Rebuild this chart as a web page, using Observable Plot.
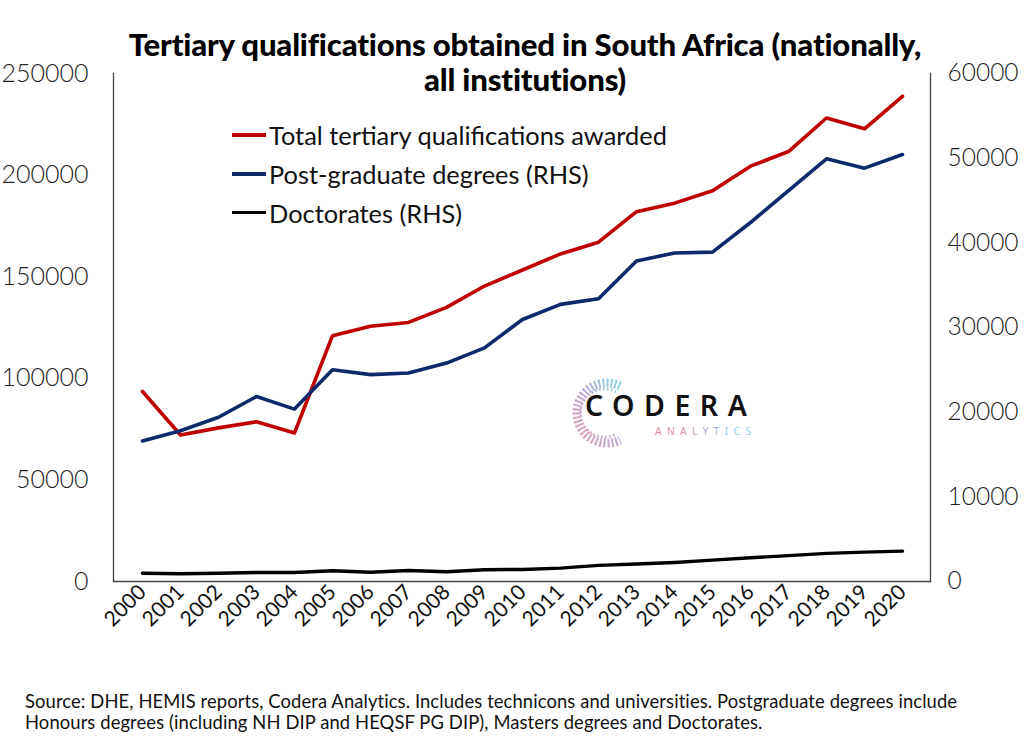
<!DOCTYPE html>
<html><head><meta charset="utf-8">
<script src="https://cdn.jsdelivr.net/npm/d3@7"></script>
<script src="https://cdn.jsdelivr.net/npm/@observablehq/plot@0.6"></script>
<style>
body{margin:0;background:#fff;}
#wrap{position:relative;width:1024px;height:754px;overflow:hidden;font-family:Lato,sans-serif;background:#fff;}
#chart{position:absolute;left:0;top:0;}
#title{position:absolute;left:75px;width:900px;top:27px;text-align:center;font-family:Lato,sans-serif;font-weight:900;font-size:31.2px;line-height:35px;color:#000;letter-spacing:-0.2px;}
#legend{position:absolute;left:232px;top:115px;font-family:Lato,sans-serif;font-size:25.4px;color:#111;}
#legend .row{display:flex;align-items:center;height:39px;}
#legend .sw{width:34px;height:4px;margin-right:3px;}
#logo{position:absolute;left:568px;top:378px;width:200px;height:70px;}
#logo .main{position:absolute;left:17px;top:12px;font-family:"Noto Sans",sans-serif;font-weight:600;font-size:28.5px;letter-spacing:9.5px;color:#111;line-height:30px;}
#logo .sub{position:absolute;left:87px;top:47px;font-family:"Noto Sans",sans-serif;font-size:10.5px;letter-spacing:5.2px;line-height:12px;}
#source{position:absolute;left:25px;top:691px;font-family:Lato,sans-serif;font-size:18.4px;line-height:21px;color:#111;white-space:nowrap;letter-spacing:0.1px;}
svg text{font-family:Lato,sans-serif;}
</style></head><body>
<div id="wrap">
  <div id="chart"></div>
  <div id="title">Tertiary qualifications obtained in South Africa (nationally,<br>all institutions)</div>
  <div id="legend"></div>
  <div id="logo">
    <svg width="60" height="70" style="position:absolute;left:0;top:0">
      <defs><linearGradient id="lg" x1="0" y1="1" x2="1" y2="0">
        <stop offset="0" stop-color="#e8a0b0"/><stop offset="0.5" stop-color="#b9a6d8"/><stop offset="1" stop-color="#8fd6e6"/></linearGradient></defs>
      <path d="M52 8 A30 30 0 1 0 52 62" fill="none" stroke="url(#lg)" stroke-width="9" stroke-dasharray="2 2"/>
      <path d="M48 14 A24 24 0 1 0 48 56" fill="none" stroke="url(#lg)" stroke-width="3" stroke-dasharray="1.5 2.5"/>
    </svg>
    <div class="main">CODERA</div>
    <div class="sub"><span style="color:#e58a97">A</span><span style="color:#e08fa2">N</span><span style="color:#d697b0">A</span><span style="color:#c9a0c2">L</span><span style="color:#b9a8d2">Y</span><span style="color:#a9b4dc">T</span><span style="color:#9cc2e2">I</span><span style="color:#93cde6">C</span><span style="color:#8dd6e8">S</span></div>
  </div>
  <div id="source">Source: DHE, HEMIS reports, Codera Analytics. Includes technicons and universities. Postgraduate degrees include<br>Honours degrees (including NH DIP and HEQSF PG DIP), Masters degrees and Doctorates.</div>
</div>
<script>
const years = [2000,2001,2002,2003,2004,2005,2006,2007,2008,2009,2010,2011,2012,2013,2014,2015,2016,2017,2018,2019,2020];
const totalQualifications = [93500,72100,75600,78600,73100,121000,125600,127500,134900,145400,153300,161200,167000,182000,186200,192300,204400,211600,228100,222800,238800];
const postgradDegrees = [16600,17800,19400,21850,20360,25000,24430,24630,25800,27600,30950,32730,33400,37860,38800,38900,42400,46160,49920,48820,50430];
const doctorates = [980,910,980,1070,1070,1270,1100,1300,1150,1390,1420,1580,1900,2060,2250,2530,2810,3050,3320,3470,3590];
const leftTicks = [0,50000,100000,150000,200000,250000];
const rightTicks = [0,10000,20000,30000,40000,50000,60000];
const seriesNames = ["Total tertiary qualifications awarded","Post-graduate degrees (RHS)","Doctorates (RHS)"];
const seriesColors = ["#c00000","#0e2a6b","#000000"];

const LEFT_MAX = 250000, RIGHT_MAX = 60000;
const k = LEFT_MAX / RIGHT_MAX;

const rows = [];
years.forEach((yr,i)=>{
  rows.push({year:yr, v:totalQualifications[i], s:seriesNames[0]});
  rows.push({year:yr, v:postgradDegrees[i]*k, s:seriesNames[1]});
  rows.push({year:yr, v:doctorates[i]*k, s:seriesNames[2]});
});

const lineOpts = (name, color, w) => Plot.line(rows.filter(r=>r.s===name), {x:"year", y:"v", stroke:color, strokeWidth:w, strokeLinejoin:"round", strokeLinecap:"round"});

const chart = Plot.plot({
  width:1024, height:660,
  marginTop:73, marginBottom:79, marginLeft:113, marginRight:94,
  x:{type:"point", domain:years, padding:0.5},
  y:{domain:[0,LEFT_MAX]},
  style:{fontFamily:"Lato, sans-serif", background:"transparent", overflow:"visible"},
  marks:[
    Plot.frame({anchor:"left", stroke:"#444", strokeWidth:1.3}),
    Plot.frame({anchor:"right", stroke:"#444", strokeWidth:1.3}),
    Plot.frame({anchor:"bottom", stroke:"#444", strokeWidth:1.3}),
    Plot.axisY(leftTicks, {anchor:"left", tickSize:0, tickPadding:25, tickFormat:d=>String(d), fontSize:25, fill:"#222", label:null}),
    Plot.axisY(rightTicks.map(v=>v*k), {anchor:"right", tickSize:0, tickPadding:17, tickFormat:d=>String(Math.round(d/k)), fontSize:24.5, fill:"#222", label:null}),
    Plot.axisX(years, {anchor:"bottom", tickSize:0, tickPadding:7, tickRotate:-45, tickFormat:d=>String(d), fontSize:21, fill:"#111", label:null}),
    lineOpts(seriesNames[0], seriesColors[0], 3.6),
    lineOpts(seriesNames[1], seriesColors[1], 3.6),
    lineOpts(seriesNames[2], seriesColors[2], 3.4)
  ]
});
document.getElementById("chart").appendChild(chart);
d3.select(chart).selectAll('g[aria-label="y-axis tick label"] text').style("font-weight","300");
d3.select(chart).selectAll('g[aria-label="x-axis tick label"] text').style("font-weight","400");

const legend = document.getElementById("legend");
seriesNames.forEach((n,i)=>{
  const r = document.createElement("div"); r.className="row";
  const sw = document.createElement("div"); sw.className="sw"; sw.style.background=seriesColors[i];
  if(i===2) sw.style.height="3.4px";
  const t = document.createElement("span"); t.textContent=n;
  r.appendChild(sw); r.appendChild(t); legend.appendChild(r);
});
</script>
</body></html>
